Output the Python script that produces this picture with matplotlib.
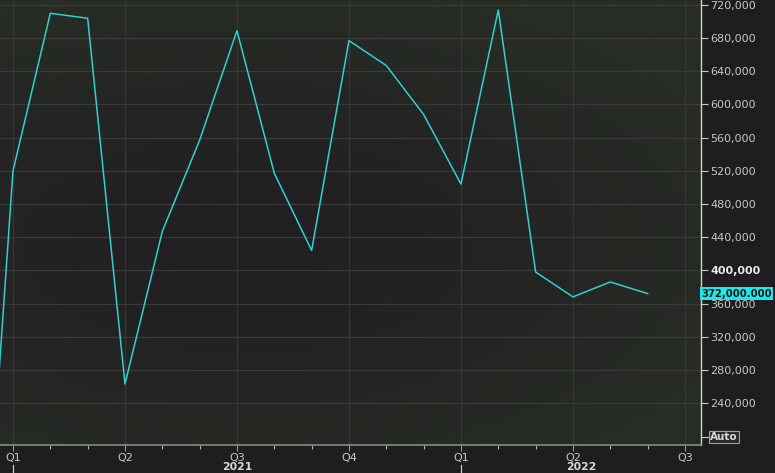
import numpy as np
import matplotlib
matplotlib.use("Agg")
import matplotlib.pyplot as plt
import matplotlib.transforms as mtransforms
from matplotlib.ticker import FixedLocator, FuncFormatter

# ---- data (monthly, Dec 2020 .. Jun 2022) ----
months = ["2020-12", "2021-01", "2021-02", "2021-03", "2021-04", "2021-05", "2021-06",
          "2021-07", "2021-08", "2021-09", "2021-10", "2021-11", "2021-12",
          "2022-01", "2022-02", "2022-03", "2022-04", "2022-05", "2022-06"]
values = [-130000, 520000, 710000, 704000, 263000, 447000, 557000,
          689000, 517000, 424000, 677000, 647000, 588000,
          504000, 714000, 398000, 368000, 386000, 372000]
quarter_labels = ["Q1", "Q2", "Q3", "Q4", "Q1", "Q2", "Q3"]
year_labels = ["2021", "2022"]
y_ticks = [240000, 280000, 320000, 360000, 400000, 440000, 480000,
           520000, 560000, 600000, 640000, 680000, 720000]
last_label = "372,000.000"

# month index relative to Jan 2021
def midx(s):
    y, m = s.split("-")
    return (int(y) - 2021) * 12 + int(m) - 1

x = np.array([midx(m) for m in months], dtype=float)
v = np.array(values, dtype=float)

fig_bg = "#1f1d20"
fig = plt.figure(figsize=(7.75, 4.73), dpi=100, facecolor=fig_bg)
ax = fig.add_axes([0.0, 1 - 445 / 473, 701 / 775, 445 / 473])
ax.set_facecolor("#221f22")

# subtle gradient background
gx, gy = np.meshgrid(np.linspace(0, 1, 200), np.linspace(0, 1, 120))
w = np.clip(np.sqrt(((gx - 0.35) * 1.0) ** 2 + ((gy - 0.45) * 1.3) ** 2) / 0.75, 0, 1) ** 1.5
c1 = np.array([0x22, 0x1f, 0x22]) / 255
c2 = np.array([0x27, 0x2d, 0x25]) / 255
img = c1[None, None, :] * (1 - w[..., None]) + c2[None, None, :] * w[..., None]
ax.imshow(img, extent=[0, 1, 0, 1], transform=ax.transAxes, origin="lower",
          aspect="auto", zorder=0, interpolation="bilinear")

ax.plot(x, v, color="#2fd0d0", lw=1.1, zorder=3)

ax.set_xlim(-0.348, 18.43)
ax.set_ylim(189400, 726000)

# grid
for yt in y_ticks:
    ax.axhline(yt, color="#3a3a3a", lw=0.9, zorder=1)
qpos = [0, 3, 6, 9, 12, 15, 18]
for q in qpos:
    ax.axvline(q, color="#363636", lw=0.9, zorder=1)

# spines
for s in ["top", "left"]:
    ax.spines[s].set_visible(False)
ax.spines["right"].set_color("#d0d0d0")
ax.spines["right"].set_linewidth(1.0)
ax.spines["bottom"].set_color("#8a8a8a")
ax.spines["bottom"].set_linewidth(1.2)

# y axis on right
ax.yaxis.tick_right()
ax.yaxis.set_major_locator(FixedLocator(y_ticks))
ax.yaxis.set_major_formatter(FuncFormatter(lambda val, p: f"{int(val):,}"))
ax.tick_params(axis="y", colors="#c8c8c8", labelcolor="#c8c8c8", length=5, width=0.8,
               labelsize=8, pad=1.5)
for lab in ax.get_yticklabels():
    if lab.get_text() == "400,000":
        lab.set_fontweight("bold")
        lab.set_color("#e8e8e8")

# x axis
ax.xaxis.set_major_locator(FixedLocator(qpos))
ax.xaxis.set_minor_locator(FixedLocator([m for m in range(0, 19) if m % 3 != 0]))
ax.set_xticklabels(quarter_labels)
ax.tick_params(axis="x", which="major", colors="#9a9a9a", labelcolor="#c8c8c8",
               length=4, width=0.8, labelsize=8, pad=2)
ax.tick_params(axis="x", which="minor", colors="#b0b0b0", length=3, width=0.8)

# year labels & separators
trans = mtransforms.blended_transform_factory(ax.transData, ax.transAxes)
ax.text(6.0, -0.039, year_labels[0], transform=trans, ha="center", va="top",
        fontsize=7.8, fontweight="bold", color="#d8d8d8")
ax.text((12 + 18.43) / 2, -0.039, year_labels[1], transform=trans, ha="center", va="top",
        fontsize=7.8, fontweight="bold", color="#d8d8d8")
for q in [0, 12]:
    ax.plot([q, q], [-0.045, -0.08], transform=trans, color="#c8c8c8", lw=0.9,
            clip_on=False)

# last value label
ytrans = mtransforms.blended_transform_factory(ax.transAxes, ax.transData)
ax.text(1.0, v[-1], last_label, transform=ytrans, ha="left", va="center",
        fontsize=7.3, fontweight="bold", color="#0a1a1a", zorder=5,
        bbox=dict(boxstyle="square,pad=0.12", facecolor="#22e6e6", edgecolor="none"))

# Auto box
ax.text(1.013, 0.017, "Auto", transform=ax.transAxes, ha="left", va="center",
        fontsize=7.5, fontweight="bold", color="#d8d8d8",
        bbox=dict(boxstyle="square,pad=0.1", facecolor="#2a2a2a", edgecolor="#a0a0a0", lw=0.8))
ax.plot([1.0, 1.01], [0.017, 0.017], transform=ax.transAxes, color="#c8c8c8", lw=0.8,
        clip_on=False)

fig.savefig("out.png", dpi=100, facecolor=fig_bg)
